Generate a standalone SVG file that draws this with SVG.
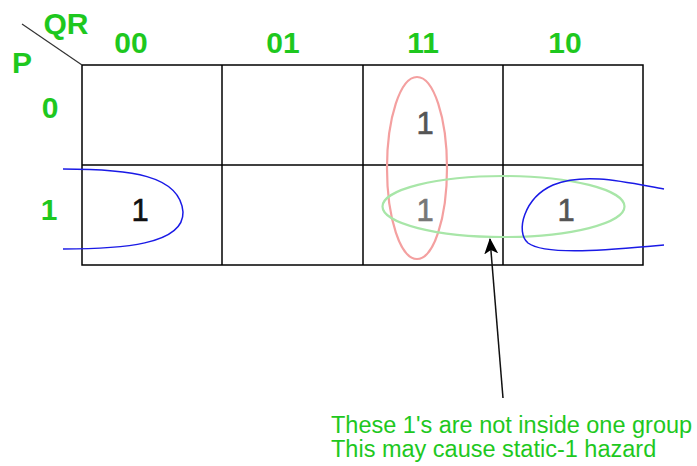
<svg xmlns="http://www.w3.org/2000/svg" width="697" height="466" viewBox="0 0 697 466">
<defs>
<style>
.lbl{font-family:"Liberation Sans",Arial,sans-serif;font-weight:bold;font-size:30px;fill:#1ec81e;text-anchor:middle}
.one{font-family:"Liberation Sans",Arial,sans-serif;font-size:31px;text-anchor:middle;stroke-width:0.6}
.note{font-family:"Liberation Sans",Arial,sans-serif;font-size:23.5px;fill:#1ec81e}
.grid{fill:none;stroke:#000;stroke-width:1.5}
</style>
<marker id="ah" viewBox="0 0 16 14" refX="15" refY="7" markerWidth="16" markerHeight="14" markerUnits="userSpaceOnUse" orient="auto">
<path d="M0,0 L16,7 L0,14 L4,7 z" fill="#000"/>
</marker>
</defs>
<rect width="697" height="466" fill="#fff"/>
<g id="grid">
<rect class="grid" x="82" y="65" width="561" height="200"/>
<line class="grid" x1="222" y1="65" x2="222" y2="265"/>
<line class="grid" x1="363" y1="65" x2="363" y2="265"/>
<line class="grid" x1="503" y1="65" x2="503" y2="265"/>
<line class="grid" x1="82" y1="165" x2="643" y2="165"/>
<line x1="22" y1="24" x2="82" y2="65" stroke="#333" stroke-width="1.2"/>
</g>
<g id="labels">
<text class="lbl" x="66" y="34">QR</text>
<text class="lbl" x="22" y="73">P</text>
<text class="lbl" x="131" y="53">00</text>
<text class="lbl" x="283" y="53">01</text>
<text class="lbl" x="423" y="53">11</text>
<text class="lbl" x="565" y="53">10</text>
<text class="lbl" x="50" y="118">0</text>
<text class="lbl" x="49" y="220">1</text>
</g>
<g id="cells">
<text class="one" x="140" y="221" fill="#111" stroke="#111">1</text>
<text class="one" x="425" y="134" fill="#555" stroke="#555">1</text>
<text class="one" x="425" y="221" fill="#777" stroke="#777">1</text>
<text class="one" x="566" y="221" fill="#555" stroke="#555">1</text>
</g>
<g id="groups">
<ellipse cx="417" cy="168" rx="30" ry="91" fill="none" stroke="#f4a0a0" stroke-width="2.2"/>
<ellipse cx="503.5" cy="206.5" rx="121" ry="30.5" fill="none" stroke="#a8e6a8" stroke-width="2.2"/>
<path d="M63,169 C130,169 180,175 183,212 C184,245 120,249 63,249" fill="none" stroke="#1a1ae6" stroke-width="1.5"/>
<path d="M664,189 C625,182 585,172 553,185 C524,198 515,232 528,243 C545,256 610,250 664,245" fill="none" stroke="#1a1ae6" stroke-width="1.5"/>
</g>
<g id="connectors">
<path d="M503,398 L490,239" fill="none" stroke="#111" stroke-width="1.5" marker-end="url(#ah)"/>
</g>
<g id="note">
<text class="note" x="331" y="433">These 1's are not inside one group</text>
<text class="note" x="331" y="457">This may cause static-1 hazard</text>
</g>
</svg>
